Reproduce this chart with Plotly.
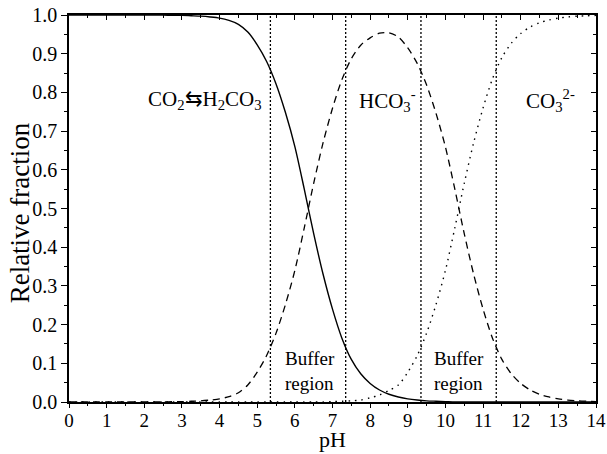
import plotly.graph_objects as go

ph = [i * 0.25 for i in range(57)]

co2 = [1.0, 1.0, 1.0, 1.0, 1.0, 1.0, 1.0, 1.0, 1.0, 1.0, 1.0, 0.999,
       0.999, 0.998, 0.997, 0.995, 0.992, 0.986, 0.976, 0.956, 0.923, 0.880,
       0.822, 0.748, 0.660, 0.550, 0.435, 0.330, 0.240, 0.165, 0.110, 0.073,
       0.048, 0.031, 0.020, 0.013, 0.008, 0.005, 0.003, 0.002, 0.001, 0.0,
       0.0, 0.0, 0.0, 0.0, 0.0, 0.0, 0.0, 0.0, 0.0, 0.0, 0.0, 0.0, 0.0, 0.0, 0.0]

hco3 = [0.0, 0.0, 0.0, 0.0, 0.0, 0.0, 0.0, 0.0, 0.0, 0.0, 0.0, 0.001,
        0.001, 0.002, 0.003, 0.005, 0.008, 0.014, 0.024, 0.044, 0.077, 0.120,
        0.178, 0.252, 0.340, 0.450, 0.565, 0.670, 0.759, 0.833, 0.887, 0.922,
        0.941, 0.953, 0.954, 0.943, 0.915, 0.875, 0.819, 0.746, 0.659, 0.550,
        0.435, 0.330, 0.240, 0.165, 0.110, 0.073, 0.048, 0.031, 0.020, 0.013,
        0.008, 0.005, 0.003, 0.002, 0.001]

co3 = [0.0, 0.0, 0.0, 0.0, 0.0, 0.0, 0.0, 0.0, 0.0, 0.0, 0.0, 0.0,
       0.0, 0.0, 0.0, 0.0, 0.0, 0.0, 0.0, 0.0, 0.0, 0.0, 0.0, 0.0,
       0.0, 0.0, 0.0, 0.0, 0.001, 0.002, 0.003, 0.005, 0.011, 0.018, 0.030,
       0.044, 0.077, 0.120, 0.178, 0.252, 0.340, 0.450, 0.565, 0.670, 0.760,
       0.835, 0.890, 0.927, 0.952, 0.969, 0.980, 0.987, 0.992, 0.995, 0.997,
       0.998, 0.999]

buffer_bounds = [5.35, 7.35, 9.35, 11.35]
x_ticks = list(range(0, 15))
y_ticks = [round(0.1 * i, 1) for i in range(11)]

FONT = "Liberation Serif"

fig = go.Figure()
fig.add_trace(go.Scatter(x=ph, y=co2, mode="lines", line=dict(color="black", width=1.4, shape="spline", smoothing=0.8),
                         showlegend=False, hoverinfo="skip"))
fig.add_trace(go.Scatter(x=ph, y=hco3, mode="lines", line=dict(color="black", width=1.3, dash="7px,5px", shape="spline", smoothing=0.8),
                         showlegend=False, hoverinfo="skip"))
fig.add_trace(go.Scatter(x=ph, y=co3, mode="lines", line=dict(color="black", width=1.4, dash="1.5px,5px", shape="spline", smoothing=0.8),
                         showlegend=False, hoverinfo="skip"))
# helper traces for the extra tick-only axes
fig.add_trace(go.Scatter(x=ph, y=co2, xaxis="x2", yaxis="y2", mode="lines", line=dict(width=0), opacity=0,
                         showlegend=False, hoverinfo="skip"))
fig.add_trace(go.Scatter(x=ph, y=co2, xaxis="x3", yaxis="y", mode="lines", line=dict(width=0), opacity=0,
                         showlegend=False, hoverinfo="skip"))

for b in buffer_bounds:
    fig.add_shape(type="line", x0=b, x1=b, y0=0, y1=1, xref="x", yref="y",
                  line=dict(color="black", width=1.3, dash="2px,2px"))

ann_font = dict(family=FONT, size=21, color="black")
fig.add_annotation(x=3.6, y=0.78, text="CO<sub>2</sub>⇆H<sub>2</sub>CO<sub>3</sub>", showarrow=False, font=ann_font)
fig.add_annotation(x=8.45, y=0.78, text="HCO<sub>3</sub><sup>-</sup>", showarrow=False, font=ann_font)
fig.add_annotation(x=12.8, y=0.78, text="CO<sub>3</sub><sup>2-</sup>", showarrow=False, font=ann_font)
buf_font = dict(family=FONT, size=19, color="black")
fig.add_annotation(x=6.4, y=0.08, text="Buffer<br>region", showarrow=False, font=buf_font, align="left")
fig.add_annotation(x=10.35, y=0.08, text="Buffer<br>region", showarrow=False, font=buf_font, align="left")

# axis titles
fig.add_annotation(x=0.5, y=-0.1318, xref="paper", yref="paper", text="pH", showarrow=False,
                   font=dict(family=FONT, size=22, color="black"), yanchor="bottom", borderpad=0)
fig.add_annotation(x=-0.093, y=0.49, xref="paper", yref="paper", text="Relative fraction", showarrow=False,
                   textangle=-90, font=dict(family=FONT, size=27, color="black"), xanchor="center", yanchor="middle",
                   borderpad=0)

tick_style = dict(tickwidth=1.2, tickcolor="black", automargin=False, showgrid=False, zeroline=False)
fig.update_layout(
    width=607, height=454,
    margin=dict(l=69, r=11, t=15, b=52, autoexpand=False),
    paper_bgcolor="white", plot_bgcolor="white",
    xaxis=dict(range=[0, 14], tickmode="array", tickvals=x_ticks, ticktext=[str(t) for t in x_ticks],
               ticks="", showline=True, linecolor="black", linewidth=1.5,
               automargin=False, showgrid=False, zeroline=False,
               tickfont=dict(family=FONT, size=19, color="black")),
    xaxis3=dict(range=[0, 14], overlaying="x", side="bottom", anchor="y", tickmode="array", tickvals=x_ticks,
                ticks="outside", ticklen=5, showticklabels=False, showline=False,
                minor=dict(dtick=0.5, ticks="outside", ticklen=3, tickwidth=1.2, tickcolor="black"), **tick_style),
    yaxis=dict(range=[0, 1], tickmode="array", tickvals=y_ticks, ticktext=[f"{t:.1f}" for t in y_ticks],
               ticks="outside", ticklen=6,
               minor=dict(dtick=0.05, ticks="outside", ticklen=3, tickwidth=1.2, tickcolor="black"),
               showline=True, linecolor="black", linewidth=1.5,
               tickfont=dict(family=FONT, size=20, color="black"), **tick_style),
    xaxis2=dict(range=[0, 14], overlaying="x", side="top", anchor="y2", tickmode="array", tickvals=x_ticks,
                ticks="inside", ticklen=5,
                minor=dict(dtick=0.5, ticks="inside", ticklen=3, tickwidth=1.2, tickcolor="black"),
                showticklabels=False, showline=True, linecolor="black", linewidth=1.5, **tick_style),
    yaxis2=dict(range=[0, 1], overlaying="y", side="right", anchor="x2", tickmode="array", tickvals=y_ticks,
                ticks="inside", ticklen=5,
                minor=dict(dtick=0.05, ticks="inside", ticklen=3, tickwidth=1.2, tickcolor="black"),
                showticklabels=False, showline=True, linecolor="black", linewidth=1.5, **tick_style),
)

fig.write_html("out.html")
